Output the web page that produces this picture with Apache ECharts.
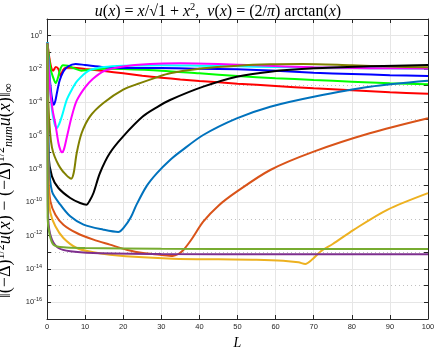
<!DOCTYPE html>
<html>
<head>
<meta charset="utf-8">
<script src="https://cdn.jsdelivr.net/npm/echarts@6/dist/echarts.min.js"></script>
<style>
    html, body { margin: 0; padding: 0; background: #fff; }
    #chart { width: 436px; height: 347px; }
</style>
</head>
<body>
<div id="chart"></div>
<script>
// points are [L, log10(error)]
var redPts = [[0.1,-0.4],[0.6,-1.3],[1.1,-1.9],[1.6,-2.1],[2.3,-1.88],[3.0,-2.0],[3.6,-2.45],[4.1,-2.1],[5,-1.92],[7,-1.92],[10,-2.0],[15,-2.12],[20,-2.26],[25,-2.4],[30,-2.52],[35,-2.63],[40,-2.72],[50,-2.88],[60,-3.02],[70,-3.16],[80,-3.28],[90,-3.4],[100,-3.48]];
var greenPts = [[0.1,-0.4],[0.9,-1.95],[1.6,-2.5],[2.3,-2.85],[2.9,-2.5],[3.5,-2.0],[4.2,-1.78],[5.5,-1.8],[7,-1.95],[9,-2.1],[11,-2.05],[15,-1.98],[20,-2.0],[30,-2.1],[40,-2.26],[50,-2.42],[60,-2.55],[70,-2.66],[80,-2.76],[90,-2.85],[100,-2.92]];
var bluePts = [[0.1,-0.4],[0.6,-2.2],[1.2,-3.6],[1.74,-4.15],[2.2,-3.9],[2.6,-3.44],[3.3,-2.7],[4.3,-2.15],[5.5,-1.85],[7.5,-1.7],[10,-1.76],[15,-1.88],[20,-1.94],[30,-1.94],[40,-1.98],[50,-2.02],[60,-2.1],[70,-2.22],[80,-2.3],[90,-2.37],[100,-2.42]];
var cyanPts = [[0.1,-0.4],[0.7,-2.8],[1.3,-4.44],[2.0,-5.3],[2.6,-5.54],[3.2,-5.3],[3.9,-4.84],[5.2,-3.84],[6.5,-3.24],[8,-2.7],[11,-2.1],[15,-1.88],[20,-1.8],[30,-1.77],[40,-1.8],[50,-1.84],[60,-1.88],[70,-1.92],[80,-1.94],[90,-1.96],[100,-1.97]];
var magentaPts = [[0.1,-0.45],[0.8,-3.2],[1.5,-4.5],[2.2,-5.3],[3.0,-6.44],[3.5,-6.85],[3.9,-7.0],[4.4,-6.85],[5.2,-6.1],[6.5,-4.84],[7.8,-3.9],[10,-3.1],[12,-2.6],[15,-2.12],[20,-1.85],[27,-1.7],[35,-1.66],[45,-1.7],[55,-1.78],[70,-1.9],[85,-1.95],[100,-1.97]];
var olivePts = [[0.1,-0.45],[0.35,-4.0],[0.8,-5.8],[1.3,-6.7],[2.0,-7.25],[3.0,-7.74],[4.0,-8.1],[4.8,-8.3],[5.6,-8.48],[6.35,-8.58],[7.0,-8.24],[7.8,-7.04],[9.1,-5.84],[11.3,-4.84],[14.8,-4.04],[20,-3.24],[24.4,-2.85],[28.8,-2.5],[32.3,-2.26],[41,-1.96],[50,-1.8],[58.6,-1.72],[67,-1.7],[80,-1.78],[90,-1.85],[100,-1.9]];
var blackPts = [[0.1,-0.5],[0.43,-7.24],[1.3,-8.44],[3.0,-9.14],[6.1,-9.74],[8.7,-10.04],[10.4,-10.14],[11.2,-9.9],[12.2,-9.44],[13.9,-8.24],[16.5,-7.04],[20,-6.04],[25.2,-4.84],[28.8,-4.3],[32.3,-3.86],[41,-3.06],[49.8,-2.46],[58.6,-2.16],[70,-1.96],[85,-1.84],[100,-1.76]];
var mBluePts = [[0.1,-0.5],[0.5,-7.5],[1.3,-9.34],[3.5,-10.14],[6.1,-10.84],[9.6,-11.34],[14.8,-11.64],[18.7,-11.78],[20.4,-11.44],[22,-10.9],[23.5,-10.14],[26.1,-9.04],[28.8,-8.26],[32.3,-7.46],[35,-6.96],[41,-5.96],[49.8,-4.96],[58.6,-4.26],[70,-3.66],[84.7,-3.06],[100,-2.7]];
var mOrangePts = [[0.1,-0.5],[0.4,-8.5],[0.9,-9.94],[2.2,-10.74],[4.3,-11.34],[7.8,-11.84],[12.2,-12.24],[16.5,-12.54],[20.9,-12.84],[25.2,-13.04],[29.6,-13.14],[33,-13.22],[34.5,-13.1],[35.8,-12.86],[38,-12.2],[41,-11.16],[45,-10.2],[49.8,-9.36],[58.6,-8.06],[70,-6.96],[84.7,-5.86],[100,-4.96]];
var mYellowPts = [[0.1,-0.5],[0.4,-9.5],[0.9,-10.64],[2.2,-11.44],[4.3,-12.14],[7.8,-12.74],[12.2,-13.0],[16.5,-13.14],[25.2,-13.3],[33,-13.38],[45,-13.42],[55,-13.44],[62,-13.5],[66,-13.6],[67.8,-13.7],[69.5,-13.45],[71.8,-12.95],[75,-12.5],[80.5,-11.65],[89.3,-10.45],[100,-9.45]];
var mPurplePts = [[0.1,-0.5],[0.2,-9.5],[0.43,-11.34],[1.3,-12.24],[3.0,-12.74],[6.1,-12.94],[12.2,-13.04],[30,-13.1],[60,-13.12],[100,-13.12]];
var mGreenPts = [[0.1,-0.5],[0.17,-10.94],[0.7,-11.94],[1.7,-12.54],[4.3,-12.7],[10,-12.74],[30,-12.78],[60,-12.8],[100,-12.8]];

var curves = [
    [redPts, '#ff0000'], [greenPts, '#00ff00'], [bluePts, '#0000ff'], [cyanPts, '#00ffff'],
    [magentaPts, '#ff00ff'], [olivePts, '#808000'], [blackPts, '#000000'],
    [mBluePts, '#0072bd'], [mOrangePts, '#d95319'], [mYellowPts, '#edb120'],
    [mPurplePts, '#7e2f8e'], [mGreenPts, '#77ac30']
];

var axisColor = '#262626';
var math = 'Liberation Serif';
var tickFont = 'Liberation Sans';

var chart = echarts.init(document.getElementById('chart'));
chart.setOption({
    animation: false,
    backgroundColor: '#fff',
    title: {
        text: '{i|u}{n|(}{i|x}{n|) = }{i|x}{n|/√1 + }{i|x}{s|2}{n|,  }{i|v}{n|(}{i|x}{n|) = (2/}{i|π}{n|) arctan(}{i|x}{n|)}',
        left: 'center',
        top: -3,
        textStyle: {
            fontWeight: 'normal',
            rich: {
                n: { fontFamily: math, fontSize: 16, fontWeight: 'normal', color: '#000', lineHeight: 20 },
                i: { fontFamily: math, fontSize: 16, fontWeight: 'normal', fontStyle: 'italic', color: '#000', lineHeight: 20 },
                s: { fontFamily: math, fontSize: 10.5, fontWeight: 'normal', color: '#000', verticalAlign: 'top', lineHeight: 20 }
            }
        }
    },
    grid: { left: 47, right: 8, top: 19, bottom: 28, containLabel: false, outerBoundsMode: 'none' },
    xAxis: [{
        type: 'value', min: 0, max: 100, interval: 10,
        name: 'L', nameLocation: 'middle', nameGap: 12,
        nameTextStyle: { fontFamily: math, fontStyle: 'italic', fontSize: 14, color: '#000' },
        axisLine: { onZero: false, lineStyle: { color: axisColor } },
        axisTick: { inside: true, length: 4, lineStyle: { color: axisColor } },
        axisLabel: { fontFamily: tickFont, fontSize: 7.5, color: axisColor, margin: 4 },
        splitLine: { show: true, lineStyle: { color: '#e6e6e6' } }
    }, {
        type: 'value', min: 0, max: 100, interval: 10, position: 'top',
        axisLine: { show: true, onZero: false, lineStyle: { color: axisColor } },
        axisTick: { inside: true, length: 4, lineStyle: { color: axisColor } },
        axisLabel: { show: false },
        splitLine: { show: false }
    }],
    yAxis: [{
        type: 'value', min: -17, max: 1, interval: 1,
        name: '{n|‖(−Δ)}{s|1/2}{i|u}{n|(}{i|x}{n|) − (−Δ)}{s|1/2}{b|num}{i|u}{n|(}{i|x}{n|)‖}{b|∞}',
        nameLocation: 'middle', nameGap: 20, nameRotate: 90,
        nameTextStyle: {
            padding: [0, 44, 0, 0],
            rich: {
                n: { fontFamily: math, fontSize: 18, color: '#000', lineHeight: 20 },
                i: { fontFamily: math, fontSize: 18, fontStyle: 'italic', color: '#000', lineHeight: 20 },
                s: { fontFamily: math, fontSize: 12, color: '#000', verticalAlign: 'top', lineHeight: 20 },
                b: { fontFamily: math, fontSize: 12, fontStyle: 'italic', color: '#000', verticalAlign: 'bottom', lineHeight: 20 }
            }
        },
        axisLine: { show: true, onZero: false, lineStyle: { color: axisColor } },
        axisTick: { inside: true, length: 4, lineStyle: { color: axisColor } },
        axisLabel: {
            margin: 5,
            formatter: function (v) { return v % 2 === 0 ? '{b|10}{s|' + v + '}' : ''; },
            rich: {
                b: { fontFamily: tickFont, fontSize: 7.5, color: axisColor, lineHeight: 12 },
                s: { fontFamily: tickFont, fontSize: 5.5, color: axisColor, verticalAlign: 'top', lineHeight: 12 }
            }
        },
        splitLine: { show: false }
    }, {
        // odd decades: dotted grid; even decades via minor lines
        type: 'value', min: -17, max: 1, interval: 2, position: 'right',
        axisLine: { show: true, onZero: false, lineStyle: { color: axisColor } },
        axisTick: { inside: true, length: 4, lineStyle: { color: axisColor } },
        minorTick: { show: true, splitNumber: 2, length: 4, lineStyle: { color: axisColor } },
        axisLabel: { show: false },
        splitLine: { show: true, lineStyle: { color: '#c0c0c0', type: [1, 3] } },
        minorSplitLine: { show: true, lineStyle: { color: '#e6e6e6' } }
    }],
    series: curves.map(function (c) {
        return {
            type: 'line',
            data: c[0],
            xAxisIndex: 0,
            yAxisIndex: 0,
            showSymbol: false,
            smooth: 0.3,
            lineStyle: { color: c[1], width: 2 },
            itemStyle: { color: c[1] }
        };
    })
});
</script>
</body>
</html>
